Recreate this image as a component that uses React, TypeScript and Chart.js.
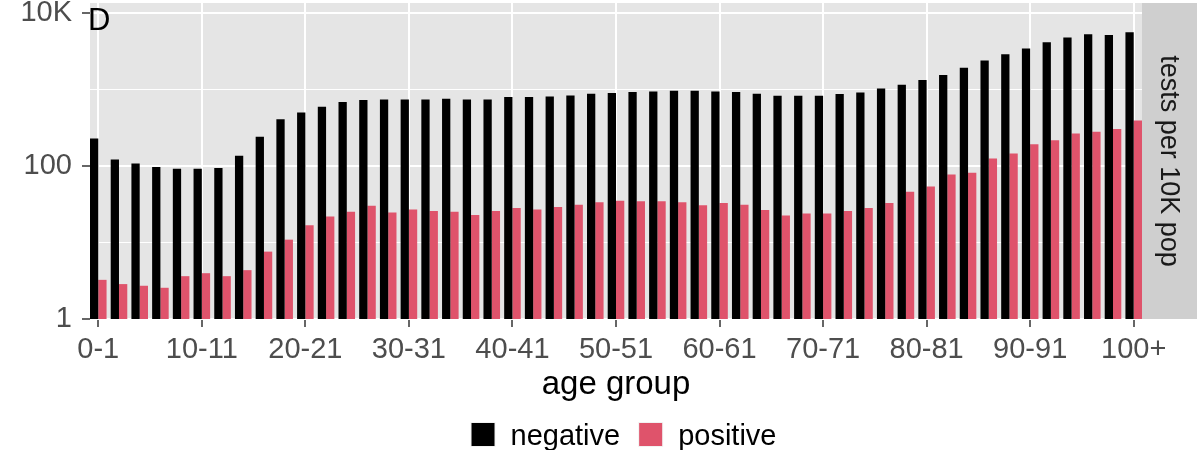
import React, { useEffect, useRef } from "react";
import { Chart, registerables } from "chart.js";

Chart.register(...registerables);

const categories = [
  "0-1", "2-3", "4-5", "6-7", "8-9", "10-11", "12-13", "14-15", "16-17", "18-19",
  "20-21", "22-23", "24-25", "26-27", "28-29", "30-31", "32-33", "34-35", "36-37", "38-39",
  "40-41", "42-43", "44-45", "46-47", "48-49", "50-51", "52-53", "54-55", "56-57", "58-59",
  "60-61", "62-63", "64-65", "66-67", "68-69", "70-71", "72-73", "74-75", "76-77", "78-79",
  "80-81", "82-83", "84-85", "86-87", "88-89", "90-91", "92-93", "94-95", "96-97", "98-99",
  "100+",
];

const negativeValues = [
  228, 122, 108, 97, 92, 92, 94, 136, 242, 407,
  502, 596, 686, 728, 742, 742, 742, 757, 742, 742,
  797, 797, 812, 838, 881, 900, 927, 944, 963, 963,
  944, 927, 881, 829, 829, 829, 872, 916, 1033, 1153,
  1327, 1543, 1919, 2392, 2896, 3430, 4150, 4770, 5270, 5160,
  5600,
];

const positiveValues = [
  3.25, 2.86, 2.72, 2.56, 3.63, 3.97, 3.63, 4.35, 7.6, 10.9,
  16.8, 21.8, 25.3, 30.3, 24.6, 27.1, 25.8, 25.3, 22.9, 25.8,
  28.2, 27.1, 29.1, 31.2, 33.7, 35.2, 34.5, 34.5, 33.7, 30.6,
  32.8, 31.2, 26.5, 22.6, 24.0, 24.0, 25.8, 28.2, 32.8, 46.1,
  54.1, 77.5, 81.5, 125, 146, 192, 217, 265, 281, 305,
  392,
];

const xTickIndices = [0, 5, 10, 15, 20, 25, 30, 35, 40, 45, 50];
const yTickValues = [1, 10, 100, 1000, 10000];
const yTickLabels = ["1", "", "100", "", "10K"];
const seriesNames = ["negative", "positive"];
const seriesColors = ["#000000", "#DF536B"];
const stripLabel = "tests per 10K pop";
const tagLabel = "D";
const xTitle = "age group";

const FONT = "'Liberation Sans', Arial, Helvetica, sans-serif";

export default function App() {
  const ref = useRef<HTMLCanvasElement>(null);

  useEffect(() => {
    const canvas = ref.current;
    if (!canvas) return;
    Chart.defaults.font.family = FONT;

    const decor = {
      id: "ggDecor",
      beforeDraw(chart: any) {
        const { ctx, chartArea: a } = chart;
        ctx.save();
        ctx.fillStyle = "#E5E5E5";
        ctx.fillRect(a.left, a.top, a.right - a.left, a.bottom - a.top);
        ctx.restore();
      },
      afterDraw(chart: any) {
        const { ctx, chartArea: a } = chart;
        ctx.save();
        // facet strip
        const stripW = 55;
        ctx.fillStyle = "#CFCFCF";
        ctx.fillRect(a.right, a.top, stripW, a.bottom - a.top);
        ctx.translate(a.right + stripW / 2 - 1.5, (a.top + a.bottom) / 2);
        ctx.rotate(Math.PI / 2);
        ctx.fillStyle = "#1A1A1A";
        ctx.font = `27px ${FONT}`;
        ctx.textAlign = "center";
        ctx.textBaseline = "middle";
        ctx.fillText(stripLabel, 0, 0);
        ctx.restore();

        // tag
        ctx.save();
        ctx.fillStyle = "#000000";
        ctx.font = `31px ${FONT}`;
        ctx.textAlign = "left";
        ctx.textBaseline = "alphabetic";
        ctx.fillText(tagLabel, a.left - 2, 30);
        ctx.restore();

        // legend
        ctx.save();
        ctx.font = `29px ${FONT}`;
        const box = 23;
        const boxTextGap = 16;
        const itemGap = 19;
        const widths = seriesNames.map((n) => ctx.measureText(n).width);
        let total = 0;
        widths.forEach((w, i) => {
          total += box + boxTextGap + w + (i < widths.length - 1 ? itemGap : 0);
        });
        let x = 624 - total / 2;
        const boxTop = 423;
        const baseline = 445;
        seriesNames.forEach((n, i) => {
          ctx.fillStyle = "#F2F2F2";
          ctx.fillRect(x - 1, boxTop - 1, box + 2, box + 2);
          ctx.fillStyle = seriesColors[i];
          ctx.fillRect(x, boxTop, box, box);
          ctx.fillStyle = "#000000";
          ctx.textAlign = "left";
          ctx.textBaseline = "alphabetic";
          ctx.fillText(n, x + box + boxTextGap, baseline);
          x += box + boxTextGap + widths[i] + itemGap;
        });
        ctx.restore();
      },
    };

    const tickFont = { family: FONT, size: 29 };

    const chart = new Chart(canvas, {
      type: "bar",
      data: {
        datasets: [
          {
            label: seriesNames[0],
            data: negativeValues.map((v, i) => ({ x: i, y: v })),
            backgroundColor: seriesColors[0],
            borderWidth: 0,
            categoryPercentage: 0.8,
            barPercentage: 1,
          },
          {
            label: seriesNames[1],
            data: positiveValues.map((v, i) => ({ x: i, y: v })),
            backgroundColor: seriesColors[1],
            borderWidth: 0,
            categoryPercentage: 0.8,
            barPercentage: 1,
          },
        ],
      },
      options: {
        responsive: false,
        devicePixelRatio: 1,
        animation: false,
        events: [],
        layout: { padding: { left: 0, right: 58, top: 3, bottom: 0 } },
        plugins: {
          legend: { display: false },
          tooltip: { enabled: false },
        },
        scales: {
          x: {
            type: "linear",
            min: -0.4,
            max: 50.4,
            bounds: "data",
            offset: false,
            afterBuildTicks: (s: any) => {
              s.ticks = xTickIndices.map((v) => ({ value: v }));
            },
            afterFit: (s: any) => {
              s.height = 131;
              s.paddingLeft = 0;
              s.paddingRight = 0;
            },
            grid: {
              offset: false,
              color: "#FFFFFF",
              lineWidth: 2,
              tickColor: "#333333",
              tickLength: 8,
              tickWidth: 1.5,
            },
            border: { display: false },
            ticks: {
              callback: (v: any) => categories[v] ?? "",
              color: "#4D4D4D",
              font: tickFont,
              padding: 6,
              maxRotation: 0,
              autoSkip: false,
            },
            title: {
              display: true,
              text: xTitle,
              color: "#000000",
              font: { family: FONT, size: 33 },
              padding: { top: 0, bottom: 45 },
            },
          },
          y: {
            type: "logarithmic",
            min: 1,
            max: 13514,
            afterBuildTicks: (s: any) => {
              s.ticks = yTickValues.map((v) => ({ value: v }));
            },
            afterFit: (s: any) => {
              s.width = 90;
              s.paddingTop = 0;
              s.paddingBottom = 0;
            },
            grid: {
              color: "#FFFFFF",
              lineWidth: (c: any) => (yTickLabels[c.index] ? 2 : 1),
              tickColor: (c: any) => (yTickLabels[c.index] ? "#333333" : "rgba(0,0,0,0)"),
              tickLength: 8,
              tickWidth: 1.5,
            },
            border: { display: false },
            ticks: {
              callback: (_v: any, i: number) => yTickLabels[i],
              color: "#4D4D4D",
              font: tickFont,
              padding: 10,
              autoSkip: false,
            },
          },
        },
      },
      plugins: [decor],
    } as any);

    return () => chart.destroy();
  }, []);

  return (
    <div style={{ position: "absolute", left: 0, top: 0, width: 1200, height: 450 }}>
      <canvas ref={ref} width={1200} height={450} style={{ display: "block" }} />
    </div>
  );
}
